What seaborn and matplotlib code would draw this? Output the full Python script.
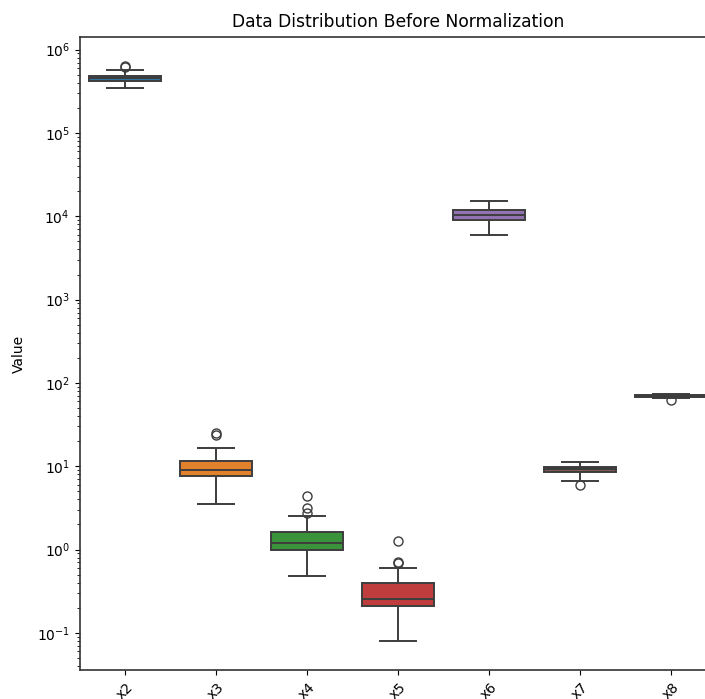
import matplotlib
matplotlib.use("Agg")
import matplotlib.pyplot as plt
import seaborn as sns
import pandas as pd

categories = ["x2", "x3", "x4", "x5", "x6", "x7", "x8"]

x2 = [345000, 372000, 388000, 401000, 409000, 415000, 420000, 426000, 431000,
      437000, 444000, 450000, 455000, 461000, 466000, 471000, 476000, 480000,
      485000, 497000, 512000, 538000, 575000, 615000, 640000]
x3 = [3.53, 5.1, 6.0, 6.6, 7.05, 7.4, 7.73, 8.0, 8.3, 8.55, 8.8, 8.95, 9.12,
      9.4, 9.8, 10.2, 10.7, 11.1, 11.5, 12.2, 13.1, 14.5, 16.4, 23.8, 24.9]
x4 = [0.487, 0.62, 0.74, 0.83, 0.9, 0.95, 0.98, 1.02, 1.07, 1.11, 1.15, 1.18,
      1.21, 1.26, 1.32, 1.39, 1.46, 1.54, 1.61, 1.78, 2.05, 2.52, 2.75, 3.13, 4.45]
x5 = [0.0793, 0.12, 0.15, 0.17, 0.185, 0.198, 0.210, 0.218, 0.226, 0.234, 0.241,
      0.248, 0.255, 0.268, 0.285, 0.305, 0.33, 0.36, 0.391, 0.43, 0.5, 0.592,
      0.69, 0.705, 1.28]
x6 = [5980, 6900, 7600, 8100, 8500, 8800, 9050, 9280, 9500, 9750, 9950, 10120,
      10300, 10500, 10720, 10950, 11200, 11500, 11830, 12300, 12900, 13700,
      14400, 14900, 15300]
x7 = [5.9, 6.7, 7.4, 7.9, 8.2, 8.45, 8.6, 8.72, 8.85, 8.97, 9.08, 9.2, 9.3, 9.4,
      9.5, 9.6, 9.7, 9.8, 9.9, 10.1, 10.4, 10.7, 10.95, 11.15, 11.3]
x8 = [61.5, 65.5, 66.2, 66.7, 67.0, 67.3, 67.5, 67.8, 68.1, 68.5, 68.8, 69.2,
      69.5, 69.8, 70.0, 70.3, 70.5, 70.8, 71.0, 71.4, 71.8, 72.2, 72.5, 72.8, 73.0]

series = [x2, x3, x4, x5, x6, x7, x8]
rows = []
for name, vals in zip(categories, series):
    for v in vals:
        rows.append({"variable": name, "value": v})
df = pd.DataFrame(rows)

fig = plt.figure(figsize=(7.05, 6.99), dpi=100)
ax = fig.add_axes([0.1128, 0.0415, 0.9035, 0.9055])

sns.boxplot(data=df, x="variable", y="value", hue="variable",
            palette="tab10", legend=False, ax=ax, order=categories,
            linewidth=1.4, fliersize=6.5)
ax.set_yscale("log")
ax.set_title("Data Distribution Before Normalization", fontsize=12.3, pad=7)
ax.set_ylabel("Value", fontsize=10, labelpad=8)
ax.set_xlabel("")
ax.tick_params(axis="both", labelsize=10)
plt.setp(ax.get_xticklabels(), rotation=45)
for s in ax.spines.values():
    s.set_linewidth(1.2)
    s.set_color("#333333")

fig.savefig("out.png", dpi=100)
